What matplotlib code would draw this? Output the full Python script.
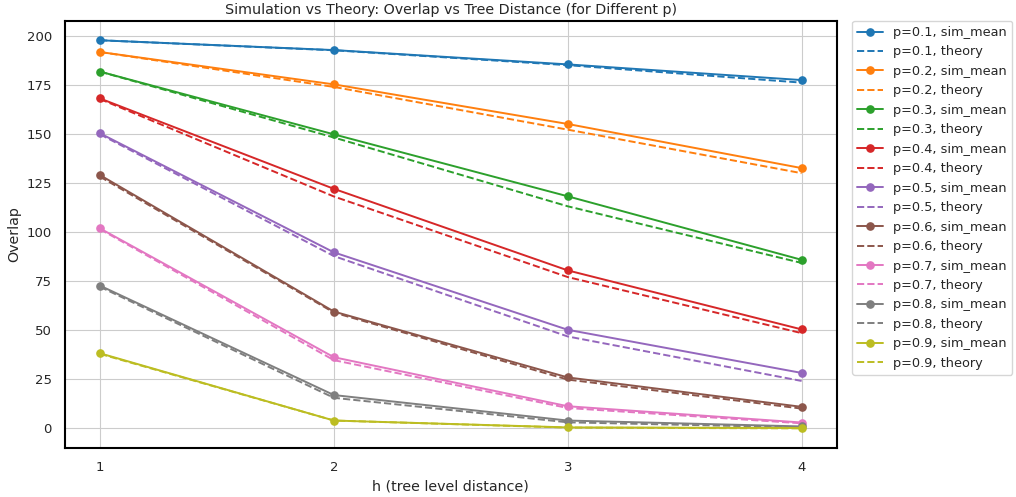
import numpy as np
import matplotlib.pyplot as plt
import seaborn as sns

sns.set_style("whitegrid")

h = [1, 2, 3, 4]
p_values = [0.1, 0.2, 0.3, 0.4, 0.5, 0.6, 0.7, 0.8, 0.9]

# simulated mean overlap per p (rows) for h = 1..4
sim_mean = [
    [198.0, 193.0, 185.7, 177.7],
    [192.0, 175.5, 155.3, 132.8],
    [182.0, 150.0, 118.4, 86.0],
    [168.3, 122.2, 80.6, 50.5],
    [150.5, 89.8, 50.3, 28.3],
    [129.2, 59.6, 26.0, 11.0],
    [102.0, 36.3, 11.3, 3.0],
    [72.8, 17.0, 4.0, 1.0],
    [38.3, 4.0, 0.5, 0.2],
]

# theoretical overlap
theory = [
    [198.0, 192.9, 185.3, 176.4],
    [192.0, 174.2, 152.4, 130.2],
    [182.0, 148.4, 113.3, 84.4],
    [168.0, 118.3, 77.2, 48.6],
    [150.0, 87.9, 46.9, 24.2],
    [128.4, 59.1, 24.9, 10.1],
    [101.6, 34.8, 10.4, 2.6],
    [72.2, 15.6, 3.1, 0.5],
    [38.0, 4.0, 0.4, 0.0],
]

colors = plt.rcParams['axes.prop_cycle'].by_key()['color']

fig = plt.figure(figsize=(10.16, 4.97), dpi=100)
ax = fig.add_axes([0.064, 0.099, 0.7595, 0.859])

for i, p in enumerate(p_values):
    c = colors[i % len(colors)]
    ax.plot(h, sim_mean[i], marker='o', markersize=5.2, linewidth=1.4, color=c,
            label=f"p={p}, sim_mean")
    ax.plot(h, theory[i], linestyle='--', linewidth=1.4, color=c,
            label=f"p={p}, theory")

ax.set_xticks(h)
ax.tick_params(labelsize=9.5, pad=6)
ax.set_xlabel("h (tree level distance)", fontsize=10.3)
ax.set_ylabel("Overlap", fontsize=10.3)
ax.set_title("Simulation vs Theory: Overlap vs Tree Distance (for Different p)", fontsize=10.3, pad=5)

for s in ax.spines.values():
    s.set_edgecolor('black')
    s.set_linewidth(1.5)

ax.legend(bbox_to_anchor=(1.02, 1), loc='upper left', borderaxespad=0, fontsize=9.3)

fig.savefig("out.png", dpi=100)
